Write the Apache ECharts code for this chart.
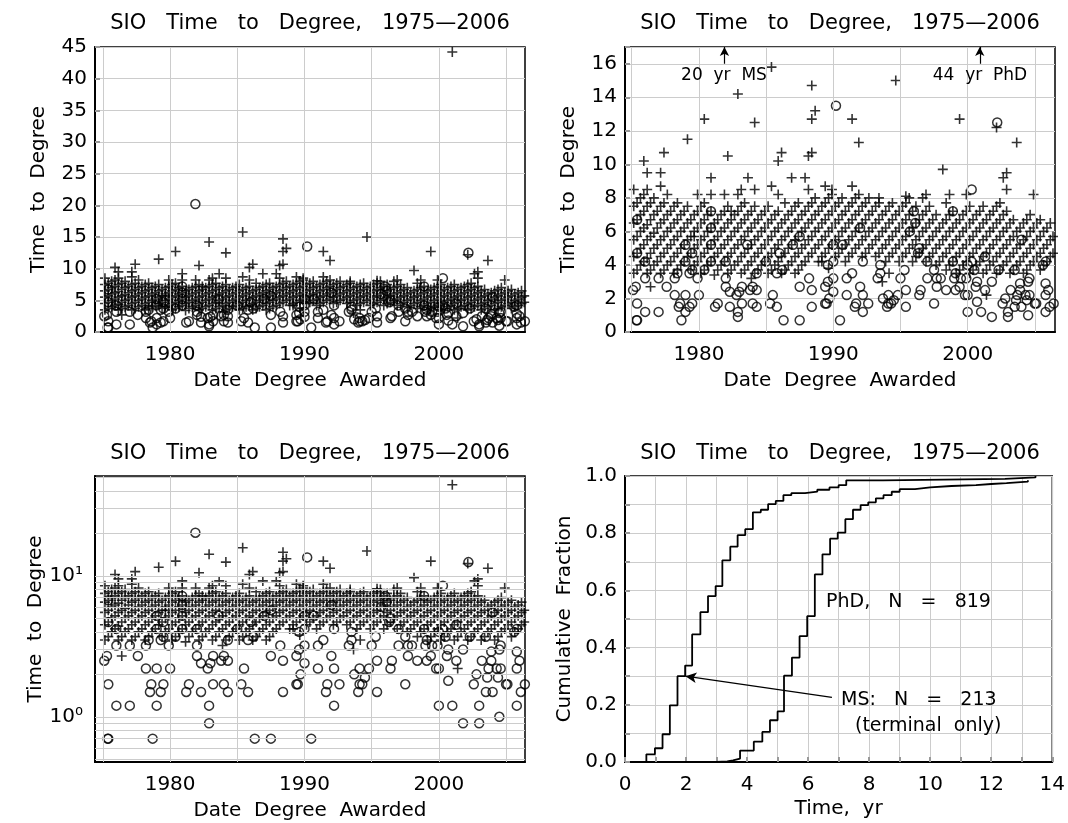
<!DOCTYPE html>
<html>
<head>
<meta charset="utf-8">
<script src="https://cdn.jsdelivr.net/npm/echarts@6/dist/echarts.min.js"></script>
<style>
html, body { margin: 0; padding: 0; background: #fff; }
#main { width: 1068px; height: 823px; }
</style>
</head>
<body>
<div id="main"></div>
<script>
// PhD awards: each row is [date awarded, time to degree, time to degree, ...]
const phdRows = [
  [1975.15, 3.5, 4.5, 5.5, 6.5, 7.5, 8.5], [1975.4, 3.7, 4.7, 5.7, 6.7, 7.7], [1975.65, 4.0, 5.0, 6.0, 7.0, 8.0], [1975.9, 4.2, 5.2, 6.2, 7.2, 8.2, 10.2],
  [1976.15, 3.5, 4.4, 5.5, 6.4, 7.5, 8.5, 9.5], [1976.4, 2.7, 3.7, 4.7, 5.7, 6.7, 7.7], [1976.65, 4.0, 5.0, 5.9, 7.0, 8.0], [1976.9, 4.2, 5.2, 6.2, 7.2],
  [1977.15, 3.5, 4.5, 5.5, 6.5, 7.5, 8.7, 9.5], [1977.4, 3.7, 4.7, 5.7, 6.7, 7.7, 10.7], [1977.65, 4.0, 5.0, 6.0, 7.0, 8.2], [1977.9, 4.2, 5.2, 6.2, 7.2],
  [1978.15, 3.5, 4.5, 5.5, 6.5, 7.5], [1978.4, 3.7, 4.7, 5.7, 6.7, 7.7], [1978.65, 4.0, 5.0, 6.0, 7.0], [1978.9, 4.2, 5.2, 6.2, 7.2],
  [1979.15, 4.5, 5.5, 6.5, 7.5, 11.5], [1979.4, 3.7, 4.7, 5.7, 6.7], [1979.65, 4.0, 5.0, 5.7, 6.0, 7.0], [1979.9, 4.2, 5.2, 6.2, 7.2, 8.2],
  [1980.15, 3.5, 4.5, 5.5, 6.5, 7.5], [1980.4, 3.7, 4.7, 5.7, 6.7, 7.7, 12.7], [1980.65, 4.0, 5.0, 6.0, 7.0], [1980.9, 4.2, 5.2, 6.2, 7.2, 8.2, 9.2],
  [1981.15, 3.4, 4.5, 5.5, 6.5], [1981.4, 3.7, 4.7, 5.7, 6.7], [1981.65, 4.0, 5.0, 6.0, 7.0], [1981.9, 4.2, 5.2, 6.2, 7.2, 8.2],
  [1982.15, 3.5, 4.5, 5.5, 6.5, 7.5, 10.5], [1982.4, 3.7, 4.7, 5.7, 6.7, 7.2], [1982.65, 4.0, 5.0, 6.0, 7.0], [1982.9, 4.2, 5.2, 6.2, 7.2, 8.2, 14.2],
  [1983.15, 3.5, 4.5, 5.5, 6.5, 7.5, 8.5], [1983.4, 3.7, 4.7, 5.7, 6.7, 7.7], [1983.65, 4.0, 5.0, 6.0, 7.0, 9.2], [1983.9, 3.2, 4.2, 5.2, 6.2, 7.2],
  [1984.15, 3.5, 4.5, 5.5, 6.5, 7.5, 8.5, 12.5], [1984.4, 3.7, 4.7, 5.7, 6.7], [1984.65, 4.0, 5.0, 6.0, 7.0], [1984.9, 4.2, 5.2, 6.2, 7.2],
  [1985.15, 3.5, 4.5, 5.5, 6.5, 7.5], [1985.4, 3.7, 4.7, 5.7, 6.7, 8.7, 15.8], [1985.65, 4.0, 5.0, 6.0, 7.0], [1985.9, 4.2, 5.2, 6.2, 7.2, 8.2, 10.2],
  [1986.15, 3.5, 4.5, 5.5, 6.5, 10.7], [1986.4, 3.7, 4.7, 5.7, 6.7, 7.7], [1986.65, 4.0, 5.0, 6.0, 7.0], [1986.9, 4.2, 5.2, 6.2, 7.2, 9.2],
  [1987.15, 3.5, 4.5, 5.5, 6.5, 7.5], [1987.4, 3.7, 4.7, 5.7, 6.7, 7.7], [1987.65, 4.0, 5.0, 6.0, 7.0], [1987.9, 4.2, 5.2, 6.2, 7.2, 9.2],
  [1988.15, 4.5, 5.5, 6.5, 7.5, 8.5, 10.5], [1988.4, 4.7, 5.7, 6.7, 7.7, 10.7, 12.7, 14.7], [1988.65, 5.0, 6.0, 7.0, 8.0, 13.2], [1988.9, 4.2, 5.2, 6.2, 7.2],
  [1989.15, 4.2, 4.5, 5.5, 6.5, 7.5], [1989.4, 4.7, 5.7, 6.7, 7.7, 8.7], [1989.65, 3.8, 5.0, 6.0, 7.0, 8.0], [1989.9, 5.2, 6.2, 7.2, 8.2, 8.5],
  [1990.15, 4.5, 5.5, 6.5, 7.5], [1990.4, 4.7, 5.7, 6.7, 7.7], [1990.65, 5.0, 6.0, 7.0, 8.0], [1990.9, 4.2, 5.2, 6.2, 7.2],
  [1991.15, 4.5, 5.5, 6.5, 7.5], [1991.4, 4.7, 5.7, 6.7, 7.7, 8.7, 12.7], [1991.65, 5.0, 6.0, 7.0, 8.0], [1991.9, 5.2, 6.2, 7.2, 8.2, 11.3],
  [1992.15, 4.5, 5.5, 6.5, 7.5], [1992.4, 4.7, 5.7, 6.7, 7.7], [1992.65, 5.0, 6.0, 7.0, 8.0], [1992.9, 5.2, 6.2, 7.2],
  [1993.15, 4.5, 5.5, 6.5, 7.5], [1993.4, 4.7, 5.7, 6.7, 7.7, 8.0], [1993.65, 3.0, 5.0, 6.0, 7.0], [1993.9, 4.2, 5.2, 6.2, 7.2],
  [1994.15, 3.5, 4.5, 5.5, 6.5, 7.5], [1994.4, 4.7, 5.7, 6.7, 7.7], [1994.65, 5.0, 6.0, 7.0, 15.0], [1994.9, 4.2, 5.2, 6.2, 7.2],
  [1995.15, 4.5, 5.5, 6.5, 7.5], [1995.4, 4.7, 5.7, 6.7, 7.7, 8.1], [1995.65, 5.0, 6.0, 7.0, 8.0], [1995.9, 4.2, 5.2, 6.2, 7.2],
  [1996.15, 4.5, 5.5, 6.5, 7.5], [1996.4, 4.7, 5.7, 6.7], [1996.65, 5.0, 6.0, 7.0, 8.0], [1996.9, 4.2, 5.2, 6.2, 7.2, 8.2],
  [1997.15, 4.5, 5.5, 6.5, 7.5], [1997.4, 4.7, 5.7, 6.7], [1997.65, 4.0, 5.0, 6.0, 7.0], [1997.9, 4.2, 5.2, 6.2],
  [1998.15, 4.5, 5.5, 6.5, 9.7], [1998.4, 3.7, 4.7, 5.7, 6.7, 7.7], [1998.65, 4.0, 5.0, 6.0, 7.0, 8.2], [1998.9, 4.2, 5.2, 6.2, 7.2],
  [1999.15, 3.5, 4.5, 5.5, 6.5], [1999.4, 3.7, 4.7, 5.7, 6.7, 12.7], [1999.65, 4.0, 5.0, 6.0, 7.0], [1999.9, 4.2, 5.2, 6.2, 7.2, 8.2],
  [2000.15, 3.5, 4.5, 5.5, 6.5, 7.5], [2000.4, 3.7, 4.7, 5.7, 6.7], [2000.65, 4.0, 5.0, 6.0, 7.0], [2000.9, 4.2, 5.2, 6.2, 7.2],
  [2001.0, 44.2], [2001.15, 3.5, 4.5, 5.5, 6.5, 7.5], [2001.4, 2.2, 3.7, 4.7, 5.7, 6.7], [2001.65, 4.0, 5.0, 6.0, 7.0], [2001.9, 4.2, 5.2, 6.2, 7.2],
  [2002.15, 3.5, 4.5, 5.5, 6.5, 7.5, 12.2], [2002.4, 3.7, 4.7, 5.7, 6.7, 7.7], [2002.65, 4.0, 5.0, 6.0, 7.0, 9.2], [2002.9, 4.2, 5.2, 6.2, 7.2, 8.5, 9.5],
  [2003.15, 3.5, 4.5, 5.5, 6.5], [2003.4, 3.7, 4.7, 5.7, 6.7], [2003.65, 4.0, 5.0, 6.0, 11.3], [2003.9, 4.2, 5.2, 6.2],
  [2004.15, 3.5, 4.5, 5.5, 6.5], [2004.4, 3.7, 4.7, 5.7, 6.7], [2004.65, 4.0, 5.0, 6.0, 7.0], [2004.9, 4.2, 5.2, 6.2, 8.2],
  [2005.15, 4.5, 5.5, 6.5], [2005.4, 3.7, 4.7, 5.7, 6.7], [2005.65, 4.0, 5.0, 6.0], [2005.9, 4.2, 5.2, 6.2],
  [2006.15, 4.5, 5.5, 6.5], [2006.35, 4.7, 5.7]
];

// MS (terminal) awards: [date awarded, time to degree]
const msPoints = [
  [1975.1, 2.5], [1975.3, 2.7], [1975.4, 1.7], [1975.4, 0.7], [1975.35, 0.7], [1975.4, 4.7], [1975.4, 6.7],
  [1976.0, 1.2], [1976.0, 3.2], [1976.0, 4.2], [1977.0, 1.2], [1977.0, 3.2], [1977.6, 2.7],
  [1978.2, 2.2], [1978.2, 3.2], [1978.4, 3.5], [1978.5, 1.5], [1978.6, 1.7], [1978.7, 0.7],
  [1979.0, 2.2], [1979.0, 4.2], [1979.0, 1.2], [1979.3, 1.5], [1979.3, 3.5], [1979.5, 1.7], [1979.5, 4.7], [1979.5, 3.7], [1979.0, 5.2],
  [1979.9, 3.2], [1980.0, 2.2], [1980.4, 3.7], [1980.9, 7.2], [1980.9, 6.2], [1980.9, 5.2], [1980.9, 4.2],
  [1981.2, 1.5], [1981.4, 1.7], [1981.88, 20.2], [1982.0, 4.2], [1982.0, 3.2], [1982.0, 2.7], [1982.3, 2.4], [1982.3, 1.5],
  [1982.8, 2.2], [1982.9, 1.2], [1982.9, 0.9], [1983.0, 2.4], [1983.2, 2.7], [1983.2, 1.7], [1983.6, 5.2], [1983.8, 2.5],
  [1984.0, 2.7], [1984.0, 1.7], [1984.3, 3.5], [1984.3, 2.5], [1984.3, 1.5], [1985.0, 4.2], [1985.3, 1.7], [1985.5, 2.2],
  [1985.8, 3.5], [1985.8, 1.5], [1986.0, 4.7], [1986.3, 0.7], [1986.2, 3.7], [1987.0, 5.2], [1987.5, 5.7], [1987.5, 2.7], [1987.5, 0.7],
  [1988.2, 3.2], [1988.4, 2.5], [1988.4, 1.5], [1989.4, 1.7], [1989.4, 2.7], [1989.6, 3.0], [1989.6, 4.0], [1989.5, 1.7], [1989.7, 2.0],
  [1990.0, 2.4], [1990.0, 3.2], [1990.0, 4.2], [1990.0, 5.2], [1990.2, 13.5], [1990.5, 0.7], [1991.0, 2.2], [1991.0, 3.2], [1990.7, 5.2],
  [1991.6, 1.5], [1991.4, 3.5], [1991.7, 1.7], [1992.0, 2.7], [1992.2, 2.2], [1992.2, 1.2], [1992.2, 4.2], [1992.0, 6.2], [1992.6, 1.7],
  [1993.3, 3.2], [1993.5, 3.5], [1993.5, 4.0], [1993.7, 2.0], [1994.1, 2.2], [1994.1, 1.7], [1994.0, 1.5], [1994.3, 1.7], [1994.5, 1.9],
  [1994.8, 2.2], [1995.0, 3.2], [1995.3, 3.7], [1995.4, 2.5], [1995.4, 1.5], [1996.0, 7.2], [1995.7, 6.0], [1996.1, 6.5],
  [1996.4, 5.0], [1996.3, 4.7], [1996.4, 2.2], [1996.5, 2.5], [1997.0, 4.2], [1997.0, 3.2], [1997.5, 3.7], [1997.7, 3.2], [1997.7, 2.7],
  [1997.5, 1.7], [1998.0, 3.2], [1998.4, 2.5], [1998.9, 7.2], [1998.9, 4.2], [1999.0, 3.2], [1999.1, 3.5], [1999.1, 2.5], [1999.4, 2.7],
  [1999.5, 3.2], [2000.0, 4.0], [1999.9, 3.2], [1999.8, 2.2], [2000.0, 1.2], [2000.0, 2.2], [2000.3, 8.5], [2000.3, 4.2], [2000.5, 3.7],
  [2000.6, 2.7], [2000.7, 1.8], [2000.7, 3.0], [2001.0, 1.2], [2001.3, 4.5], [2001.3, 2.5], [2001.8, 3.0], [2001.8, 0.9], [2002.2, 12.5],
  [2002.3, 3.7], [2002.6, 1.7], [2002.8, 2.0], [2003.0, 1.2], [2003.0, 0.9], [2003.2, 2.5], [2003.5, 3.7], [2003.5, 1.5], [2003.7, 2.2],
  [2003.6, 1.9], [2003.9, 2.5], [2003.9, 2.9], [2004.0, 1.5], [2004.0, 5.5], [2004.3, 2.2], [2004.4, 1.9], [2004.5, 3.0], [2004.5, 1.0],
  [2004.6, 3.2], [2004.6, 2.2], [2005.0, 1.7], [2005.1, 1.7], [2005.6, 4.0], [2005.8, 4.2], [2005.8, 2.9], [2005.8, 2.2], [2005.8, 1.2],
  [2006.0, 2.5], [2006.1, 1.5], [2006.4, 1.7]
];

// cumulative fractions: [time, fraction after the step]
const phdCdf = [
  [1.7, 0], [3.0, 0.002], [3.35, 0.006], [3.54, 0.012], [3.77, 0.04], [4.22, 0.071], [4.5, 0.105], [4.75, 0.146],
  [5.0, 0.177], [5.21, 0.302], [5.47, 0.365], [5.72, 0.44], [5.97, 0.51], [6.22, 0.656], [6.47, 0.726], [6.72, 0.781],
  [6.97, 0.802], [7.22, 0.849], [7.47, 0.882], [7.72, 0.898], [7.97, 0.908], [8.22, 0.922], [8.47, 0.933], [8.74, 0.945],
  [9.0, 0.954], [9.5, 0.96], [10.0, 0.965], [10.7, 0.968], [11.5, 0.972], [12.0, 0.975], [12.5, 0.98], [13.2, 0.985]
];
const msCdf = [
  [0.7, 0], [0.7, 0.027], [0.98, 0.048], [1.23, 0.097], [1.47, 0.198], [1.72, 0.30], [1.97, 0.337], [2.2, 0.446],
  [2.47, 0.524], [2.72, 0.58], [2.97, 0.615], [3.19, 0.705], [3.45, 0.753], [3.69, 0.793], [3.94, 0.814], [4.19, 0.873],
  [4.45, 0.882], [4.69, 0.902], [4.94, 0.913], [5.19, 0.933], [5.45, 0.94], [5.9, 0.945], [6.3, 0.952], [6.7, 0.96],
  [7.0, 0.968], [7.25, 0.985], [8.45, 0.99], [12.45, 0.995], [13.45, 1.0]
];

const yearGrid = [1975, 1980, 1985, 1990, 1995, 2000, 2005];
const yearLabels = [1980, 1990, 2000];
const logGrid = [0.5, 0.6, 0.7, 0.8, 0.9, 1, 2, 3, 4, 5, 6, 7, 8, 9, 10, 20, 30, 40, 50];

const phdPoints = [];
phdRows.forEach(function (row) {
  for (let i = 1; i < row.length; i++) {
    phdPoints.push([row[0], row[i]]);
  }
});

const FONT = 'DejaVu Sans';
const TITLE = 'SIO   Time   to   Degree,   1975\u20142006';
const PLUS = 'path://M5,0L5,10M0,5L10,5';
const GRID_GRAY = '#cccccc';
const TICK_SIZE = 20;

const chart = echarts.init(document.getElementById('main'), null, {renderer: 'canvas'});

function gridMarks(xs, ys) {
  return {
    silent: true,
    symbol: 'none',
    label: {show: false},
    emphasis: {disabled: true},
    lineStyle: {color: GRID_GRAY, width: 1, type: 'solid'},
    data: xs.map(function (v) { return {xAxis: v}; }).concat(ys.map(function (v) { return {yAxis: v}; }))
  };
}

function text(str, x, y, size, align) {
  return {
    type: 'text', x: x, y: y, silent: true, z: 100,
    style: {
      text: str, fill: '#000', fontSize: size, fontFamily: FONT,
      align: align || 'center', verticalAlign: 'middle',
      textAlign: align || 'center', textVerticalAlign: 'middle'
    }
  };
}

function dateAxis(idx, min) {
  return {
    gridIndex: idx, type: 'value', min: min, max: min + 32,
    axisLine: {show: true, lineStyle: {color: '#000', width: 2}},
    axisTick: {show: false},
    splitLine: {show: false},
    axisLabel: {customValues: yearLabels, formatter: function (v) { return String(v); }, color: '#000', fontSize: TICK_SIZE, margin: 13, fontFamily: FONT},
    name: 'Date  Degree  Awarded', nameLocation: 'middle', nameGap: 39,
    nameTextStyle: {color: '#000', fontSize: 20, fontFamily: FONT}
  };
}

const yName = {name: 'Time  to  Degree', nameLocation: 'middle', nameGap: 46, nameTextStyle: {color: '#000', fontSize: 20, fontFamily: FONT}};
const tickIn = {show: true, inside: true, length: 5, lineStyle: {color: '#999', width: 2}};

function scatterPair(idx) {
  return [
    {type: 'scatter', xAxisIndex: idx, yAxisIndex: idx, data: phdPoints, symbol: PLUS, symbolSize: 10,
     itemStyle: {color: '#000', borderColor: '#000', borderWidth: 1.6}, silent: true},
    {type: 'scatter', xAxisIndex: idx, yAxisIndex: idx, data: msPoints, symbol: 'circle', symbolSize: 9,
     itemStyle: {color: 'rgba(0,0,0,0)', borderColor: '#000', borderWidth: 1.5}, silent: true}
  ];
}

const option = {
  animation: false,
  backgroundColor: '#fff',
  textStyle: {fontFamily: FONT},
  grid: [
    {left: 95, top: 47, width: 430, height: 285, show: true, borderColor: '#000', borderWidth: 1.5},
    {left: 625, top: 47, width: 430, height: 285, show: true, borderColor: '#000', borderWidth: 1.5},
    {left: 95, top: 476, width: 430, height: 286, show: true, borderColor: '#000', borderWidth: 1.5},
    {left: 625, top: 476, width: 430, height: 286, show: true, borderColor: '#000', borderWidth: 1.5}
  ],
  xAxis: [
    dateAxis(0, 1974.41),
    dateAxis(1, 1974.5),
    dateAxis(2, 1974.41),
    {
      gridIndex: 3, type: 'value', min: 0, max: 14, interval: 1,
      axisLine: {show: true, lineStyle: {color: '#000', width: 2}},
      axisTick: tickIn,
      splitLine: {show: true, lineStyle: {color: GRID_GRAY, width: 1}},
      axisLabel: {formatter: function (v) { return v % 2 === 0 ? String(v) : ''; }, color: '#000', fontSize: TICK_SIZE, margin: 13},
      name: 'Time,  yr', nameLocation: 'middle', nameGap: 37,
      nameTextStyle: {color: '#000', fontSize: 20, fontFamily: FONT}
    }
  ],
  yAxis: [
    Object.assign({
      gridIndex: 0, type: 'value', min: 0, max: 45, interval: 5,
      axisLine: {show: true, lineStyle: {color: '#000', width: 2}},
      axisTick: tickIn,
      splitLine: {show: true, lineStyle: {color: GRID_GRAY, width: 1}},
      axisLabel: {color: '#000', fontSize: TICK_SIZE, margin: 8}
    }, yName),
    Object.assign({
      gridIndex: 1, type: 'value', min: 0, max: 17, interval: 2,
      axisLine: {show: true, lineStyle: {color: '#000', width: 2}},
      axisTick: tickIn,
      splitLine: {show: true, lineStyle: {color: GRID_GRAY, width: 1}},
      axisLabel: {color: '#000', fontSize: TICK_SIZE, margin: 8, formatter: function (v) { return v > 16 ? '' : String(v); }}
    }, yName),
    Object.assign({
      gridIndex: 2, type: 'log', logBase: 10, min: 0.478, max: 51,
      axisLine: {show: true, lineStyle: {color: '#000', width: 2}},
      axisTick: {show: false},
      splitLine: {show: false},
      axisLabel: {color: '#000', fontSize: TICK_SIZE, margin: 12, formatter: function (v) {
        if (Math.abs(v - 1) < 1e-6) return '10\u2070';
        if (Math.abs(v - 10) < 1e-5) return '10\u00b9';
        return '';
      }}
    }, yName),
    {
      gridIndex: 3, type: 'value', min: 0, max: 1, interval: 0.1,
      axisLine: {show: true, lineStyle: {color: '#000', width: 2}},
      axisTick: tickIn,
      splitLine: {show: true, lineStyle: {color: GRID_GRAY, width: 1}},
      axisLabel: {color: '#000', fontSize: TICK_SIZE, margin: 8, formatter: function (v) {
        return Math.round(v * 10) % 2 === 0 ? v.toFixed(1) : '';
      }},
      name: 'Cumulative  Fraction', nameLocation: 'middle', nameGap: 50,
      nameTextStyle: {color: '#000', fontSize: 20, fontFamily: FONT}
    }
  ],
  series: [
    {type: 'line', xAxisIndex: 0, yAxisIndex: 0, data: [], z: 1, markLine: gridMarks(yearGrid, [])},
    {type: 'line', xAxisIndex: 1, yAxisIndex: 1, data: [], z: 1, markLine: gridMarks(yearGrid, [])},
    {type: 'line', xAxisIndex: 2, yAxisIndex: 2, data: [], z: 1, markLine: gridMarks(yearGrid, logGrid)},
    {
      type: 'line', xAxisIndex: 1, yAxisIndex: 1, data: [], z: 5,
      markLine: {
        silent: true, symbol: ['none', 'arrow'], symbolSize: [7, 9], label: {show: false},
        emphasis: {disabled: true},
        lineStyle: {color: '#000', width: 1.2, type: 'solid'},
        data: [
          [{coord: [1981.9, 16.0]}, {coord: [1981.9, 17.0]}],
          [{coord: [2000.9, 16.0]}, {coord: [2000.9, 17.0]}]
        ]
      }
    }
  ].concat(scatterPair(0), scatterPair(1), scatterPair(2), [
    {type: 'line', xAxisIndex: 3, yAxisIndex: 3, data: msCdf, step: 'end', showSymbol: false, silent: true,
     lineStyle: {color: '#000', width: 1.8}},
    {type: 'line', xAxisIndex: 3, yAxisIndex: 3, data: phdCdf, step: 'end', showSymbol: false, silent: true,
     lineStyle: {color: '#000', width: 1.8},
     markLine: {
       silent: true, symbol: ['none', 'arrow'], symbolSize: [8, 11], label: {show: false},
       emphasis: {disabled: true},
       lineStyle: {color: '#000', width: 1.2, type: 'solid'},
       data: [[{coord: [6.78, 0.226]}, {coord: [1.98, 0.30]}]]
     }}
  ]),
  graphic: [
    text(TITLE, 310, 24, 21),
    text(TITLE, 840, 24, 21),
    text(TITLE, 310, 454, 21),
    text(TITLE, 840, 454, 21),
    text('20  yr  MS', 724, 76, 17),
    text('44  yr  PhD', 980, 76, 17),
    text('PhD,   N   =   819', 826, 602, 19, 'left'),
    text('MS:   N   =   213', 841, 700, 19, 'left'),
    text('(terminal  only)', 855, 726, 19, 'left')
  ]
};

chart.setOption(option);
</script>
</body>
</html>
